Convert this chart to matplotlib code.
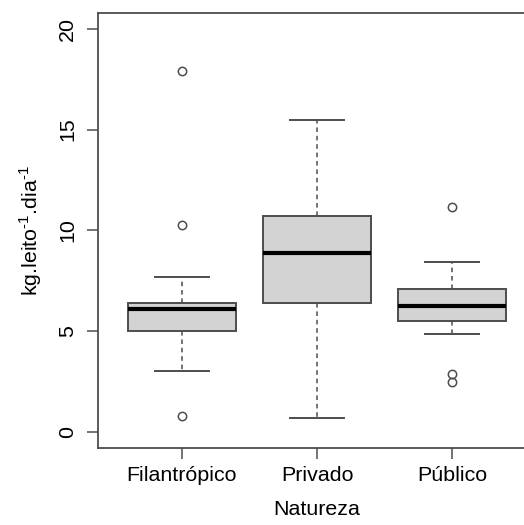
import matplotlib
matplotlib.use("Agg")
import matplotlib.pyplot as plt

plt.rcParams['font.family'] = ['Liberation Sans', 'DejaVu Sans']
plt.rcParams['mathtext.fontset'] = 'custom'
plt.rcParams['mathtext.rm'] = 'Liberation Sans'

categories = ["Filantrópico", "Privado", "Público"]
whislo = [3.04, 0.68, 4.87]
q1 = [5.00, 6.39, 5.50]
med = [6.09, 8.87, 6.26]
q3 = [6.41, 10.73, 7.10]
whishi = [7.68, 15.48, 8.45]
fliers = [[17.89, 10.26, 0.81], [], [11.16, 2.89, 2.46]]
yticks = [0, 5, 10, 15, 20]

stats = []
for i, c in enumerate(categories):
    stats.append(dict(label=c, whislo=whislo[i], q1=q1[i], med=med[i],
                      q3=q3[i], whishi=whishi[i], fliers=fliers[i]))

fig = plt.figure(figsize=(5.24, 5.25), dpi=100)
ax = fig.add_axes([0.187, 0.1467, 0.836, 0.829])

edge = '#4d4d4d'
ax.bxp(stats, positions=[1, 2, 3], widths=0.8, patch_artist=True,
       boxprops=dict(facecolor='#d3d3d3', edgecolor=edge, linewidth=1.4),
       medianprops=dict(color='black', linewidth=3.0, solid_capstyle='butt'),
       whiskerprops=dict(color=edge, linewidth=1.1, linestyle=(0, (3, 2.5))),
       capprops=dict(color=edge, linewidth=1.4),
       capwidths=0.4,
       flierprops=dict(marker='o', markerfacecolor='none', markeredgecolor=edge,
                       markersize=6, markeredgewidth=1.1))

ax.set_xlim(0.38, 3.62)
ax.set_ylim(-0.8, 20.8)
ax.set_yticks(yticks)
ax.set_yticklabels([str(t) for t in yticks], rotation=90, va='center', fontsize=15.4)
ax.set_xticks([1, 2, 3])
ax.set_xticklabels(categories, fontsize=15.4)
ax.tick_params(axis='both', length=8, width=1.1, color=edge)
ax.tick_params(axis='x', pad=5)
ax.tick_params(axis='y', pad=7)
for s in ax.spines.values():
    s.set_color(edge)
    s.set_linewidth(1.3)

ax.set_xlabel("Natureza", fontsize=15.4, labelpad=11)
ax.set_ylabel("kg.leito$^{\\mathregular{\u20101}}$.dia$^{\\mathregular{\u20101}}$",
              fontsize=15.4, labelpad=10)

fig.savefig("out.png", dpi=100)
